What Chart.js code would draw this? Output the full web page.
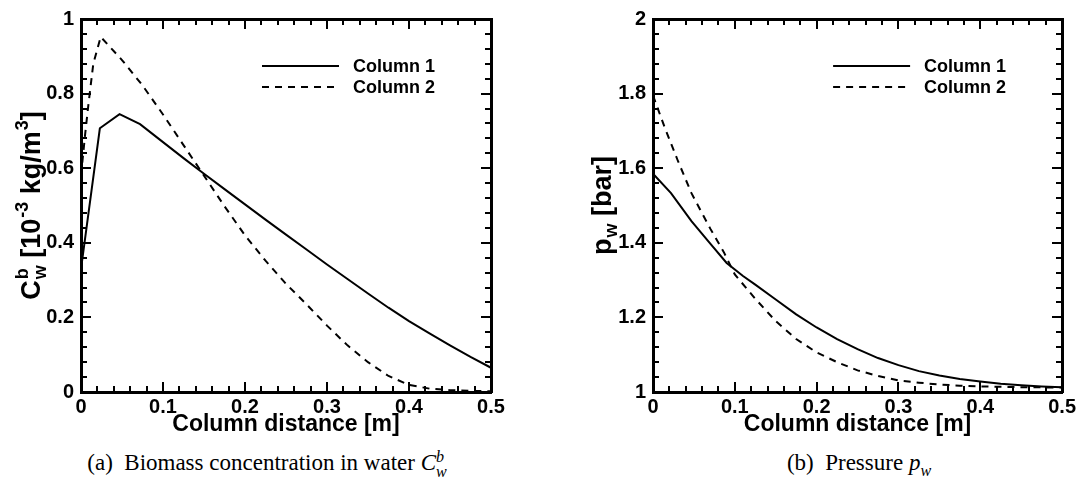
<!DOCTYPE html>
<html>
<head>
<meta charset="utf-8">
<script src="https://cdn.jsdelivr.net/npm/chart.js@4.4.0/dist/chart.umd.min.js"></script>
<style>
  html, body { margin: 0; padding: 0; background: #fff; }
  #page { position: relative; width: 1079px; height: 493px; overflow: hidden; }
  #wrapA { position: absolute; left: 0; top: 0; width: 540px; height: 440px; }
  #wrapB { position: absolute; left: 540px; top: 0; width: 539px; height: 440px; }
  .caption {
    position: absolute; top: 448px; font-family: 'Liberation Serif', 'Times New Roman', serif;
    font-size: 23px; line-height: 30px; white-space: nowrap; transform: translateX(-50%); color: #000;
  }
  .ss { display: inline-block; vertical-align: -0.45em; font-size: 0.7em; line-height: 0.95em; }
  .ss span { display: block; }
</style>
</head>
<body>
<div id="page">
  <div id="wrapA"><canvas id="chartA" width="540" height="440"></canvas></div>
  <div id="wrapB"><canvas id="chartB" width="539" height="440"></canvas></div>
  <div class="caption" style="left:267px">(a)&nbsp; Biomass concentration in water <i>C</i><span class="ss"><span><i>b</i></span><span><i>w</i></span></span></div>
  <div class="caption" style="left:859px">(b)&nbsp; Pressure <i>p</i><sub style="font-size:0.7em"><i>w</i></sub></div>
</div>
<script>
// (a) biomass concentration, 10^-3 kg/m^3
const xBiomass1 = [0, 0.023, 0.047, 0.072, 0.1, 0.125, 0.15, 0.175, 0.2, 0.225, 0.25, 0.275, 0.3, 0.325, 0.35, 0.375, 0.4, 0.425, 0.45, 0.475, 0.5];
const biomass1  = [0.33, 0.707, 0.745, 0.718, 0.67, 0.627, 0.585, 0.544, 0.503, 0.462, 0.422, 0.382, 0.342, 0.303, 0.264, 0.226, 0.19, 0.157, 0.125, 0.094, 0.065];
const xBiomass2 = [0, 0.005, 0.009, 0.015, 0.024, 0.05, 0.075, 0.1, 0.125, 0.15, 0.175, 0.2, 0.225, 0.25, 0.275, 0.3, 0.325, 0.35, 0.375, 0.4, 0.425, 0.45, 0.475, 0.5];
const biomass2  = [0.58, 0.69, 0.77, 0.88, 0.952, 0.89, 0.822, 0.744, 0.662, 0.58, 0.498, 0.42, 0.352, 0.29, 0.235, 0.178, 0.125, 0.08, 0.043, 0.019, 0.009, 0.005, 0.003, 0.002];

// (b) pressure, bar
const xPressure1 = [0, 0.022, 0.047, 0.07, 0.09, 0.11, 0.125, 0.15, 0.175, 0.2, 0.225, 0.25, 0.275, 0.3, 0.325, 0.35, 0.375, 0.4, 0.425, 0.45, 0.475, 0.5];
const pressure1  = [1.585, 1.533, 1.458, 1.398, 1.346, 1.311, 1.288, 1.248, 1.208, 1.173, 1.142, 1.115, 1.091, 1.072, 1.056, 1.044, 1.035, 1.028, 1.022, 1.018, 1.015, 1.013];
const xPressure2 = [0, 0.014, 0.03, 0.047, 0.07, 0.087, 0.1, 0.125, 0.15, 0.175, 0.2, 0.225, 0.25, 0.275, 0.3, 0.325, 0.35, 0.375, 0.4, 0.45, 0.5];
const pressure2  = [1.795, 1.711, 1.622, 1.533, 1.438, 1.373, 1.315, 1.25, 1.19, 1.142, 1.106, 1.08, 1.058, 1.043, 1.031, 1.025, 1.02, 1.017, 1.015, 1.013, 1.012];

const seriesNames = ['Column 1', 'Column 2'];
const xTitle = 'Column distance [m]';
const biomassTitle = [{t: 'C'}, {sup: 'b', sub: 'w'}, {t: ' [10'}, {sup: '-3'}, {t: ' kg/m'}, {sup: '3'}, {t: ']'}];
const pressureTitle = [{t: 'p'}, {sub: 'w'}, {t: ' [bar]'}];

const FONT = '"Liberation Sans", Arial, Helvetica, sans-serif';
Chart.defaults.font.family = FONT;
Chart.defaults.font.weight = 'bold';
Chart.defaults.color = '#000';

function pts(xs, ys) {
  return xs.map((x, i) => ({x: x, y: ys[i]}));
}

// inward ticks on all four sides + frame
function frameTicks(xMinor, xMajor, yMinor, yMajor) {
  return {
    id: 'frameTicks',
    afterDraw(chart) {
      const {ctx, chartArea: a} = chart;
      const xs = chart.scales.x, ys = chart.scales.y;
      const L = Math.round(a.left), R = Math.round(a.right), T = Math.round(a.top), B = Math.round(a.bottom);
      ctx.save();
      ctx.fillStyle = '#000';
      const nx = Math.round((xs.max - xs.min) / xMinor);
      const xEvery = Math.round(xMajor / xMinor);
      for (let i = 0; i <= nx; i++) {
        const px = Math.round(xs.getPixelForValue(xs.min + i * xMinor));
        const len = i % xEvery === 0 ? 10 : 6;
        ctx.fillRect(px - 1, B - len, 2, len);
        ctx.fillRect(px - 1, T, 2, len);
      }
      const ny = Math.round((ys.max - ys.min) / yMinor);
      const yEvery = Math.round(yMajor / yMinor);
      for (let i = 0; i <= ny; i++) {
        const py = Math.round(ys.getPixelForValue(ys.min + i * yMinor));
        const len = i % yEvery === 0 ? 10 : 6;
        ctx.fillRect(L, py - 1, len, 2);
        ctx.fillRect(R - len, py - 1, len, 2);
      }
      ctx.fillRect(L - 1, T - 1, R - L + 2, 3);
      ctx.fillRect(L - 1, B - 1, R - L + 2, 3);
      ctx.fillRect(L - 1, T - 1, 3, B - T + 2);
      ctx.fillRect(R - 1, T - 1, 3, B - T + 2);
      ctx.restore();
    }
  };
}

// legend drawn inside the plot, top right
const innerLegend = {
  id: 'innerLegend',
  afterDraw(chart) {
    const {ctx, chartArea: a} = chart;
    ctx.save();
    ctx.font = 'bold 18px ' + FONT;
    ctx.textBaseline = 'middle';
    ctx.fillStyle = '#000';
    chart.data.datasets.forEach((ds, i) => {
      const y = a.top + 47 + i * 21;
      ctx.strokeStyle = ds.borderColor;
      ctx.lineWidth = ds.borderWidth;
      ctx.setLineDash(ds.borderDash || []);
      ctx.beginPath();
      ctx.moveTo(a.right - 229, y);
      ctx.lineTo(a.right - 152, y);
      ctx.stroke();
      ctx.setLineDash([]);
      ctx.fillText(ds.label, a.right - 138, y + 1);
    });
    ctx.restore();
  }
};

// rotated y title with sub/superscripts
function yTitle(parts, cx) {
  return {
    id: 'yTitle',
    afterDraw(chart) {
      const {ctx, chartArea: a} = chart;
      const size = 27, small = 18;
      const big = 'bold ' + size + 'px ' + FONT;
      const sm = 'bold ' + small + 'px ' + FONT;
      const widths = parts.map(p => {
        if (p.t) { ctx.font = big; return ctx.measureText(p.t).width; }
        ctx.font = sm;
        return Math.max(p.sup ? ctx.measureText(p.sup).width : 0, p.sub ? ctx.measureText(p.sub).width : 0) + 1;
      });
      const total = widths.reduce((s, w) => s + w, 0);
      ctx.save();
      ctx.translate(cx, (a.top + a.bottom) / 2);
      ctx.rotate(-Math.PI / 2);
      ctx.fillStyle = '#000';
      ctx.textBaseline = 'alphabetic';
      const base = size * 0.36;
      let x = -total / 2;
      parts.forEach((p, i) => {
        if (p.t) {
          ctx.font = big;
          ctx.fillText(p.t, x, base);
        } else {
          ctx.font = sm;
          if (p.sup) ctx.fillText(p.sup, x + 1, base - size * 0.45);
          if (p.sub) ctx.fillText(p.sub, x + 1, base + size * 0.22);
        }
        x += widths[i];
      });
      ctx.restore();
    }
  };
}

function makeChart(id, xs1, ys1, xs2, ys2, yMin, yMax, yAxisWidth, padRight, titleParts, titleX) {
  const yStep = (yMax - yMin) / 5;
  return new Chart(document.getElementById(id).getContext('2d'), {
    type: 'line',
    data: {
      datasets: [{
        label: seriesNames[0],
        data: pts(xs1, ys1),
        borderColor: '#000',
        borderWidth: 2,
        pointRadius: 0,
        tension: 0,
        fill: false
      }, {
        label: seriesNames[1],
        data: pts(xs2, ys2),
        borderColor: '#000',
        borderWidth: 2,
        borderDash: [7, 6],
        pointRadius: 0,
        tension: 0,
        fill: false
      }]
    },
    options: {
      responsive: false,
      animation: false,
      layout: { padding: { top: 18, right: padRight, left: 0, bottom: 0 } },
      plugins: {
        legend: { display: false },
        tooltip: { enabled: false }
      },
      scales: {
        x: {
          type: 'linear',
          min: 0,
          max: 0.5,
          grid: { display: false, drawTicks: false },
          border: { display: false },
          ticks: {
            stepSize: 0.1,
            autoSkip: false,
            maxRotation: 0,
            padding: 3,
            font: { size: 20, weight: 'bold' },
            callback: v => String(+v.toFixed(1))
          },
          title: {
            display: true,
            text: xTitle,
            font: { size: 23, weight: 'bold' },
            padding: { top: 0, bottom: 2 }
          },
          afterFit(scale) { scale.height = 48; }
        },
        y: {
          min: yMin,
          max: yMax,
          grid: { display: false, drawTicks: false },
          border: { display: false },
          ticks: {
            stepSize: yStep,
            padding: 7,
            font: { size: 20, weight: 'bold' },
            callback: v => String(+v.toFixed(1))
          },
          afterFit(scale) { scale.width = yAxisWidth; }
        }
      }
    },
    plugins: [frameTicks(0.02, 0.1, yStep / 5, yStep), innerLegend, yTitle(titleParts, titleX)]
  });
}

makeChart('chartA', xBiomass1, biomass1, xBiomass2, biomass2, 0, 1, 81, 49, biomassTitle, 30);
makeChart('chartB', xPressure1, pressure1, xPressure2, pressure2, 1, 2, 113, 16, pressureTitle, 61);
</script>
</body>
</html>
